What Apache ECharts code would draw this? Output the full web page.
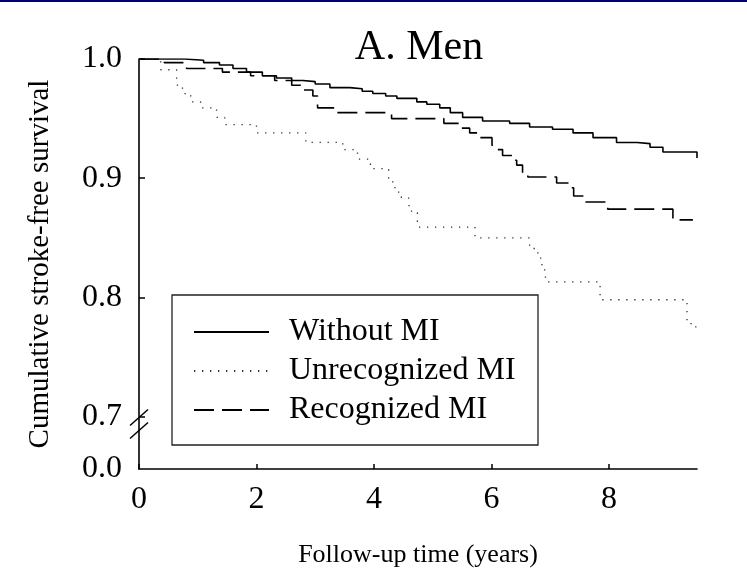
<!DOCTYPE html>
<html><head><meta charset="utf-8">
<script src="https://cdn.jsdelivr.net/npm/echarts@6/dist/echarts.min.js"></script>
<style>html,body{margin:0;padding:0;background:#fff}#c{width:747px;height:577px}</style>
</head><body><div id="c"></div>
<script>
// ---- data ----
const seriesNames = ['Without MI', 'Unrecognized MI', 'Recognized MI'];

const withoutTime = [0, 0.78, 1.1, 1.37, 1.6, 1.83, 2.1, 2.34, 2.6, 2.79, 3.0, 3.25, 3.59, 3.8, 3.98, 4.2, 4.39, 4.73, 4.9, 5.12, 5.3, 5.51, 5.85, 6.31, 6.65, 7.04, 7.39, 7.73, 8.13, 8.48, 8.7, 8.92, 9.34, 9.5];
const withoutSurv = [1.0, 0.999, 0.997, 0.995, 0.992, 0.989, 0.986, 0.984, 0.982, 0.981, 0.979, 0.976, 0.975, 0.973, 0.971, 0.969, 0.967, 0.964, 0.962, 0.959, 0.955, 0.951, 0.948, 0.946, 0.943, 0.941, 0.938, 0.934, 0.930, 0.929, 0.926, 0.922, 0.922, 0.917];

const unrecTime = [0, 0.37, 0.64, 0.74, 0.88, 1.05, 1.32, 1.46, 2.00, 2.84, 3.47, 3.72, 3.94, 4.25, 4.32, 4.42, 4.59, 4.64, 4.74, 5.72, 6.65, 6.79, 6.86, 6.92, 7.85, 9.33, 9.48];
const unrecSurv = [1.0, 0.991, 0.978, 0.971, 0.964, 0.959, 0.951, 0.945, 0.938, 0.930, 0.924, 0.916, 0.908, 0.900, 0.892, 0.884, 0.877, 0.871, 0.859, 0.850, 0.841, 0.833, 0.823, 0.813, 0.798, 0.778, 0.771];

const recogTime = [0, 0.43, 0.81, 1.42, 1.90, 2.31, 2.60, 2.79, 2.96, 3.04, 3.33, 4.30, 5.19, 5.49, 5.63, 5.80, 6.01, 6.04, 6.19, 6.36, 6.43, 6.53, 6.62, 7.11, 7.33, 7.40, 7.59, 7.98, 9.09, 9.43];
const recogSurv = [1.0, 0.997, 0.992, 0.989, 0.986, 0.982, 0.978, 0.974, 0.969, 0.959, 0.955, 0.950, 0.946, 0.942, 0.938, 0.934, 0.928, 0.924, 0.919, 0.915, 0.911, 0.905, 0.901, 0.896, 0.892, 0.885, 0.880, 0.874, 0.865, 0.865];

const xTickValues = [0, 2, 4, 6, 8];
const yTickValues = [0.7, 0.8, 0.9, 1.0];
const yAxisBottom = 0.656;   // bottom of the broken axis, labelled "0.0"
const yBottomLabel = '0.0';

// ---- chart ----
const FONT = '"Liberation Serif", "Times New Roman", serif';
function pairs(t, s) { return t.map((v, i) => [v, s[i]]); }

const chart = echarts.init(document.getElementById('c'), null, { renderer: 'canvas' });

const option = {
  animation: false,
  backgroundColor: '#fff',
  title: {
    text: 'A. Men', left: 414, top: 22, textAlign: 'center',
    textStyle: { fontFamily: FONT, fontSize: 42, fontWeight: 'normal', color: '#000' }
  },
  grid: { left: 139, right: 50, top: 59, bottom: 108, containLabel: false },
  legend: {
    orient: 'vertical', left: 193, top: 314, padding: 0,
    itemWidth: 75, itemHeight: 20, itemGap: 3,
    data: seriesNames,
    itemStyle: { opacity: 0 },
    textStyle: { fontFamily: FONT, fontSize: 32, color: '#000', lineHeight: 36, padding: [0, 0, 0, 15] }
  },
  xAxis: {
    type: 'value', min: 0, max: 9.5, interval: 2,
    name: 'Follow-up time (years)', nameLocation: 'middle', nameGap: 73,
    nameTextStyle: { fontFamily: FONT, fontSize: 26, color: '#000' },
    axisLine: { lineStyle: { color: '#000', width: 1.6 } },
    axisTick: { inside: true, length: 5, lineStyle: { color: '#000', width: 1.5 }, customValues: xTickValues },
    axisLabel: { fontFamily: FONT, fontSize: 32, color: '#000', margin: 15, customValues: xTickValues },
    splitLine: { show: false }
  },
  yAxis: {
    type: 'value', min: yAxisBottom, max: 1.0,
    name: 'Cumulative stroke-free survival', nameLocation: 'middle', nameGap: 84,
    nameTextStyle: { fontFamily: FONT, fontSize: 29, color: '#000' },
    axisLine: { lineStyle: { color: '#000', width: 1.6 } },
    axisTick: { inside: true, length: 6, lineStyle: { color: '#000', width: 1.5 }, customValues: yTickValues },
    axisLabel: {
      fontFamily: FONT, fontSize: 32, color: '#000', margin: 17,
      customValues: [yAxisBottom].concat(yTickValues),
      formatter: v => (v < 0.69 ? yBottomLabel : v.toFixed(1))
    },
    splitLine: { show: false }
  },
  series: [
    {
      name: seriesNames[0], type: 'line', step: 'end', symbol: 'none',
      data: pairs(withoutTime, withoutSurv),
      itemStyle: { color: '#000' },
      lineStyle: { color: '#000', width: 1.6, type: 'solid' }
    },
    {
      name: seriesNames[1], type: 'line', step: 'end', symbol: 'none',
      data: pairs(unrecTime, unrecSurv),
      itemStyle: { color: '#333' },
      lineStyle: { color: '#333', width: 1.3, type: [1.3, 6.7] }
    },
    {
      name: seriesNames[2], type: 'line', step: 'end', symbol: 'none',
      data: pairs(recogTime, recogSurv),
      itemStyle: { color: '#000' },
      lineStyle: { color: '#000', width: 1.6, type: [20, 8] }
    }
  ]
};
chart.setOption(option);

// decorations: top band, legend frame and axis-break marks
const pBreak = chart.convertToPixel({ gridIndex: 0 }, [0, 0.7]);
const bx = pBreak[0], by = pBreak[1];
chart.setOption({
  graphic: [
    { type: 'rect', left: 0, top: 0, shape: { x: 0, y: 0, width: 747, height: 2 }, style: { fill: '#000070' }, silent: true },
    { type: 'rect', shape: { x: 172, y: 295, width: 366, height: 150 }, style: { fill: null, stroke: '#222', lineWidth: 1.3 }, silent: true, z: 10 },
    { type: 'line', shape: { x1: bx - 9, y1: by + 9, x2: bx + 9, y2: by - 7 }, style: { stroke: '#000', lineWidth: 1.5 }, z: 10 },
    { type: 'line', shape: { x1: bx - 9, y1: by + 22, x2: bx + 9, y2: by + 6 }, style: { stroke: '#000', lineWidth: 1.5 }, z: 10 }
  ]
});
</script>
</body></html>
